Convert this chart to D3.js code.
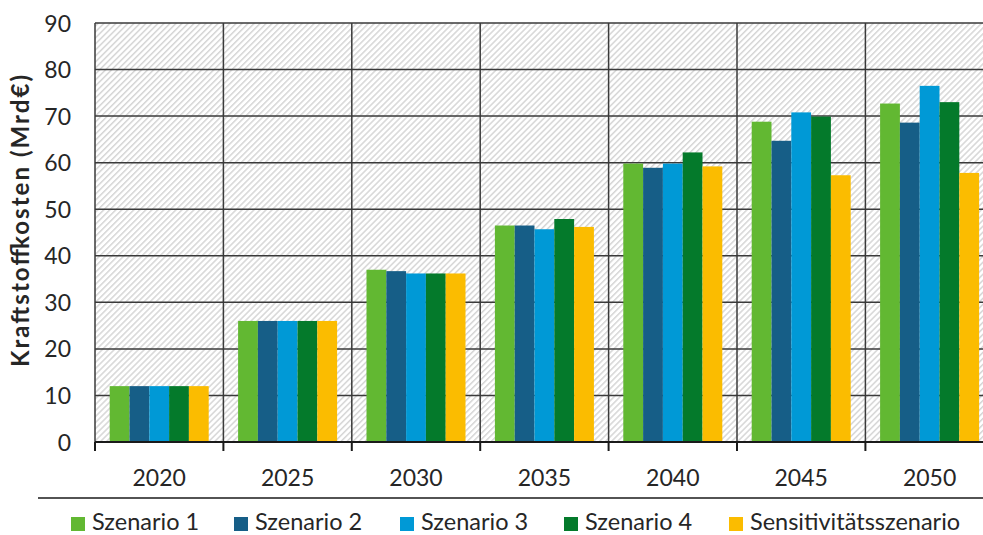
<!DOCTYPE html>
<html>
<head>
<meta charset="utf-8">
<script src="https://cdn.jsdelivr.net/npm/d3@7"></script>
<style>
  html, body { margin: 0; padding: 0; background: #fff; }
  svg { display: block; }
  text { font-family: Lato, "Open Sans", sans-serif; fill: #262626; }
</style>
</head>
<body>
<svg id="chart" width="983" height="535"></svg>
<script>
// Kraftstoffkosten je Szenario und Stützjahr (Mrd€)
const years = ["2020", "2025", "2030", "2035", "2040", "2045", "2050"];
const seriesNames = ["Szenario 1", "Szenario 2", "Szenario 3", "Szenario 4", "Sensitivitätsszenario"];
const szenario1 = [12, 26, 37.0, 46.5, 59.8, 68.8, 72.7];
const szenario2 = [12, 26, 36.7, 46.5, 58.9, 64.7, 68.6];
const szenario3 = [12, 26, 36.2, 45.7, 59.8, 70.8, 76.5];
const szenario4 = [12, 26, 36.2, 47.9, 62.2, 69.9, 73.0];
const sensitivitaet = [12, 26, 36.2, 46.2, 59.2, 57.3, 57.8];
const yTicks = [0, 10, 20, 30, 40, 50, 60, 70, 80, 90];
const colors = ["#62b832", "#165e87", "#0099d6", "#047a2b", "#fbbc00"];

const allSeries = [szenario1, szenario2, szenario3, szenario4, sensitivitaet];

const svg = d3.select("#chart");
const plotLeft = 95, plotTop = 23, plotBottom = 442;
const bandW = 128.4;
const plotRight = plotLeft + bandW * years.length;

// Fine diagonal hatch used as plot background
const defs = svg.append("defs");
const pat = defs.append("pattern")
  .attr("id", "hatch")
  .attr("patternUnits", "userSpaceOnUse")
  .attr("width", 4.25).attr("height", 4.25)
  .attr("patternTransform", "rotate(45)");
pat.append("rect").attr("width", 4.25).attr("height", 4.25).attr("fill", "#ffffff");
pat.append("rect").attr("x", 0).attr("y", 0).attr("width", 1.5).attr("height", 4.25).attr("fill", "#d6d6d6");

const x = d3.scaleBand().domain(years).range([plotLeft, plotRight]).paddingInner(0).paddingOuter(0);
const xs = d3.scaleBand().domain(seriesNames).range([0, x.bandwidth()]).paddingOuter(0.742).paddingInner(0);
const y = d3.scaleLinear().domain([0, 90]).range([plotBottom, plotTop]);

svg.append("rect")
  .attr("x", plotLeft).attr("y", plotTop)
  .attr("width", plotRight - plotLeft).attr("height", plotBottom - plotTop)
  .attr("fill", "url(#hatch)");

// Horizontal grid
svg.append("g").selectAll("line").data(yTicks.filter(d => d > 0)).join("line")
  .attr("x1", plotLeft).attr("x2", plotRight)
  .attr("y1", d => y(d)).attr("y2", d => y(d))
  .attr("stroke", "#3a3a3a").attr("stroke-width", 1.5);

// Vertical grid at category boundaries
svg.append("g").selectAll("line").data(years).join("line")
  .attr("x1", d => x(d)).attr("x2", d => x(d))
  .attr("y1", plotTop).attr("y2", plotBottom)
  .attr("stroke", "#3a3a3a").attr("stroke-width", 1.5);

// Bars
const groups = svg.append("g").selectAll("g").data(years).join("g")
  .attr("transform", d => `translate(${x(d)},0)`);
groups.selectAll("rect")
  .data((yr, i) => seriesNames.map((s, k) => ({ s, k, v: allSeries[k][i] })))
  .join("rect")
  .attr("x", d => xs(d.s))
  .attr("width", xs.bandwidth())
  .attr("y", d => y(d.v))
  .attr("height", d => y(0) - y(d.v))
  .attr("fill", d => colors[d.k]);

// X axis with ticks at category boundaries
svg.append("line")
  .attr("x1", plotLeft).attr("x2", plotRight).attr("y1", plotBottom).attr("y2", plotBottom)
  .attr("stroke", "#1a1a1a").attr("stroke-width", 2);
svg.append("g").selectAll("line").data(years).join("line")
  .attr("x1", d => x(d)).attr("x2", d => x(d))
  .attr("y1", plotBottom).attr("y2", plotBottom + 9)
  .attr("stroke", "#1a1a1a").attr("stroke-width", 2);
svg.append("g").selectAll("text").data(years).join("text")
  .attr("x", d => x(d) + x.bandwidth() / 2)
  .attr("y", 486)
  .attr("text-anchor", "middle")
  .attr("font-size", 23)
  .text(d => d);

// Y axis labels
svg.append("g").selectAll("text").data(yTicks).join("text")
  .attr("x", 71)
  .attr("y", d => y(d) + 8.5)
  .attr("text-anchor", "end")
  .attr("font-size", 23)
  .text(d => d);

// Y axis title
svg.append("text")
  .attr("transform", `translate(29,221) rotate(-90)`)
  .attr("text-anchor", "middle")
  .attr("font-size", 24)
  .attr("font-weight", "bold")
  .attr("textLength", 292)
  .attr("lengthAdjust", "spacing")
  .text("Kraftstoffkosten (Mrd€)");

// Separator line above the legend
svg.append("line")
  .attr("x1", 38).attr("x2", 983).attr("y1", 498).attr("y2", 498)
  .attr("stroke", "#1a1a1a").attr("stroke-width", 1.5);

// Legend
const legendX = [71, 234, 400, 564, 729];
const leg = svg.append("g").selectAll("g").data(seriesNames).join("g")
  .attr("transform", (d, i) => `translate(${legendX[i]},517)`);
leg.append("rect").attr("width", 14).attr("height", 14).attr("fill", (d, i) => colors[i]);
leg.append("text").attr("x", 21).attr("y", 13).attr("font-size", 23.5).text(d => d);
</script>
</body>
</html>
